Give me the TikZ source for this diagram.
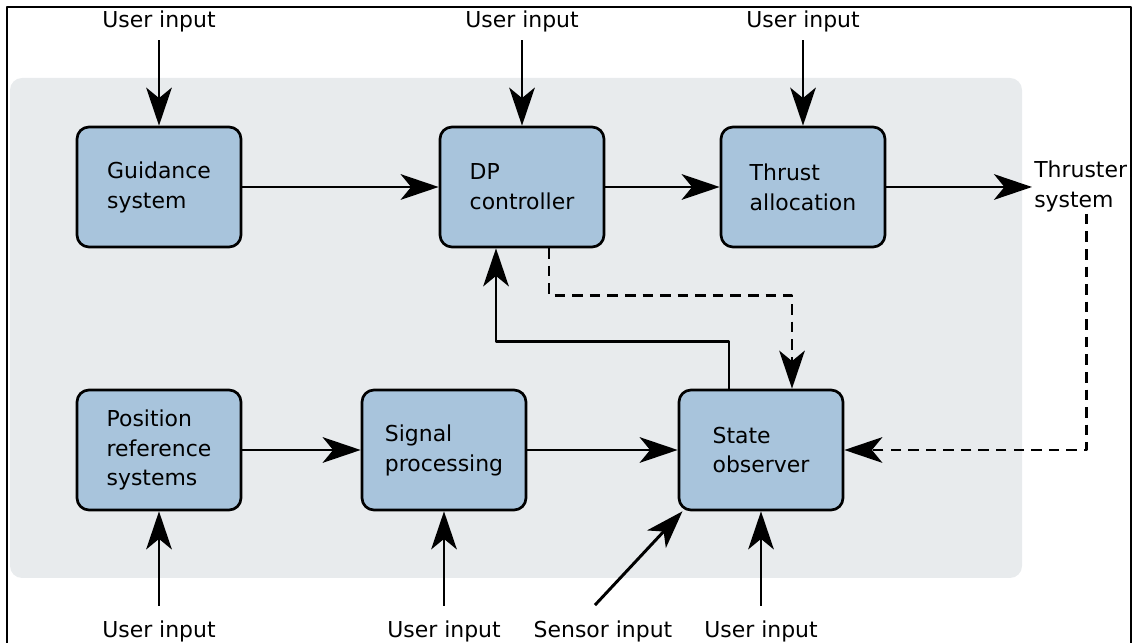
\documentclass[tikz,border=0pt]{standalone}
\usepackage{fontspec}
\setmainfont{DejaVu Sans}
\usetikzlibrary{arrows.meta}

\definecolor{bluBlocco}{RGB}{168,196,220}
\definecolor{grigioSfondo}{RGB}{232,235,237}

\begin{document}
\begin{tikzpicture}[line join=round,
    blocco/.style={draw=black, line width=1.9pt, fill=bluBlocco, rounded corners=0.3cm,
        minimum width=4.1cm, minimum height=3cm, align=left,
        font=\fontsize{15.6}{21.3}\selectfont},
    etichetta/.style={font=\fontsize{15.6}{21.3}\selectfont, inner sep=0.18cm},
    freccia/.style={line width=2.1pt, -{Stealth[length=0.95cm, width=0.64cm, inset=0.26cm]}},
    tratteggio/.style={freccia, dash pattern=on 7.5pt off 5pt}]

    \useasboundingbox (0,0) rectangle (28.425,16.075);

    % Cornice esterna (aperta in basso)
    \draw[line width=1.2pt] (0.175,0) -- (0.175,15.9) -- (28.275,15.9) -- (28.275,0);

    % Area grigia di sfondo
    \fill[grigioSfondo, rounded corners=0.3cm] (0.25,1.625) rectangle (25.55,14.125);

    % Blocchi
    \node[blocco] (guida)   at (3.975,11.4)  {Guidance\\system};
    \node[blocco] (dp)      at (13.05,11.4)  {DP\\controller};
    \node[blocco] (spinta)  at (20.075,11.4) {Thrust\\allocation};
    \node[blocco] (posiz)   at (3.975,4.825) {Position\\reference\\systems};
    \node[blocco] (segnale) at (11.1,4.825)  {Signal\\processing};
    \node[blocco] (osserv)  at (19.025,4.825) {State\\observer};

    % Etichette di ingresso/uscita
    \node[etichetta, anchor=base] (utente1) at (3.975,15.375)  {User input};
    \node[etichetta, anchor=base] (utente2) at (13.05,15.375)  {User input};
    \node[etichetta, anchor=base] (utente3) at (20.075,15.375) {User input};
    \node[etichetta, anchor=base] (utente4) at (3.975,0.125)   {User input};
    \node[etichetta, anchor=base] (utente5) at (11.1,0.125)    {User input};
    \node[etichetta, anchor=base] (sensore) at (15.075,0.125)  {Sensor input};
    \node[etichetta, anchor=base] (utente6) at (19.025,0.125)  {User input};
    \node[etichetta, anchor=west, align=left, inner sep=0.05cm] (propuls) at (25.8,11.425) {Thruster\\system};

    % Ingressi dall'alto
    \draw[freccia] (utente1.south) -- (guida.north);
    \draw[freccia] (utente2.south) -- (dp.north);
    \draw[freccia] (utente3.south) -- (spinta.north);

    % Ingressi dal basso
    \draw[freccia, shorten <=0.2cm] (utente4.north) -- (posiz.south);
    \draw[freccia, shorten <=0.2cm] (utente5.north) -- (segnale.south);
    \draw[freccia, shorten <=0.2cm] (utente6.north) -- (osserv.south);
    \draw[freccia] ([xshift=-0.2cm, yshift=0.22cm]sensore.north) -- ([xshift=0.12cm]osserv.south west);

    % Catena principale
    \draw[freccia] (guida) -- (dp);
    \draw[freccia] (dp) -- (spinta);
    \draw[freccia] (spinta.east) -- (spinta.east -| propuls.west);
    \draw[freccia] (posiz) -- (segnale);
    \draw[freccia] (segnale) -- (osserv);

    % Retroazione dall'osservatore al controllore
    \draw[freccia] ([xshift=-0.8cm]osserv.north) -- ++(0,1.175) -| ([xshift=-0.65cm]dp.south);

    % Collegamenti tratteggiati
    \draw[tratteggio] ([xshift=0.675cm]dp.south) -- ++(0,-1.175) -| ([xshift=0.775cm]osserv.north);
    \draw[tratteggio] ([xshift=0.15cm]propuls.south) |- (osserv.east);

\end{tikzpicture}
\end{document}
